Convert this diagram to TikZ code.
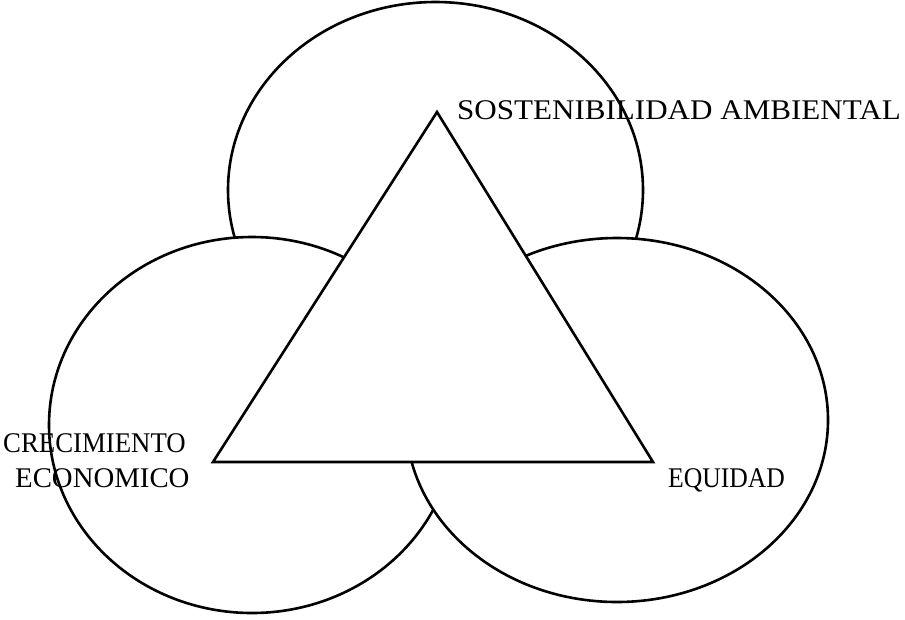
\documentclass[tikz,border=0pt]{standalone}
\usepackage{fontspec}
\setmainfont{Liberation Serif}
\usepackage{graphicx}
\tikzset{
  blob/.style={draw=black, fill=white, line width=2.6pt},
  tri/.style={draw=black, fill=white, line width=2.6pt, line join=miter},
  lbl/.style={inner sep=0pt, font=\fontsize{28.5}{30}\selectfont, anchor=base west}
}
\begin{document}
\begin{tikzpicture}[x=1pt, y=-1pt]
  \useasboundingbox (0,0) rectangle (905,619);
  % three overlapping circles (painter's order: top, left, right)
  \path[blob] (435.5,190) ellipse [x radius=207.5, y radius=188];
  \path[blob] (252,425) ellipse [x radius=203, y radius=188];
  \path[blob] (617,420) ellipse [x radius=211, y radius=182];
  % central triangle
  \coordinate (apex) at (437,112);
  \coordinate (bl) at (213,462);
  \coordinate (br) at (653,462);
  \draw[tri] (apex) -- (bl) -- (br) -- cycle;
  % labels
  \node[lbl] (sost) at (457,119) {\scalebox{1.09}[1]{SOSTENIBILIDAD AMBIENTAL}};
  \node[lbl] (crec) at (3,452) {\scalebox{0.94}[1]{CRECIMIENTO}};
  \node[lbl] (econ) at (15,487) {\scalebox{1.01}[1]{ECONOMICO}};
  \node[lbl] (equi) at (668,487) {\scalebox{0.9}[1]{EQUIDAD}};
\end{tikzpicture}
\end{document}
